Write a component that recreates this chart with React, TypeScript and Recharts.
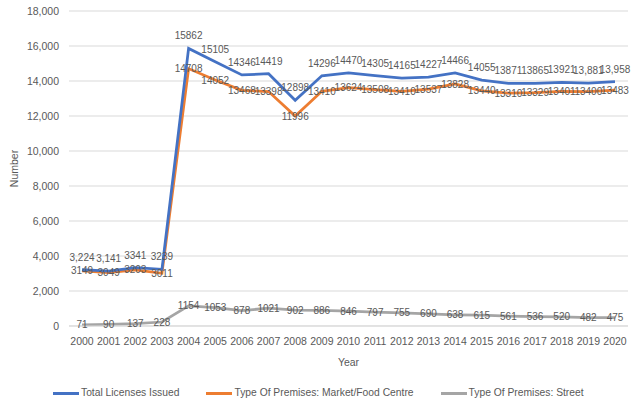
import React from "react";
import { LineChart, Line, XAxis, YAxis, CartesianGrid, LabelList } from "recharts";

const years = [
  "2000", "2001", "2002", "2003", "2004", "2005", "2006", "2007", "2008", "2009", "2010",
  "2011", "2012", "2013", "2014", "2015", "2016", "2017", "2018", "2019", "2020",
];

const totalLicenses = [
  3224, 3141, 3341, 3239, 15862, 15105, 14346, 14419, 12898, 14296, 14470,
  14305, 14165, 14227, 14466, 14055, 13871, 13865, 13921, 13881, 13958,
];

// Excel labels: a few carry thousands separators, most don't
const totalLabels = [
  "3,224", "3,141", "3341", "3239", "15862", "15105", "14346", "14419", "12898", "14296", "14470",
  "14305", "14165", "14227", "14466", "14055", "13871", "13865", "13921", "13,881", "13,958",
];

const marketFood = [
  3149, 3049, 3203, 3011, 14708, 14052, 13468, 13398, 11996, 13410, 13624,
  13508, 13410, 13537, 13828, 13440, 13310, 13329, 13401, 13400, 13483,
];

const street = [
  71, 90, 137, 228, 1154, 1053, 878, 1021, 902, 886, 846,
  797, 755, 690, 638, 615, 561, 536, 520, 482, 475,
];

const yTicks = [0, 2000, 4000, 6000, 8000, 10000, 12000, 14000, 16000, 18000];

const data = years.map((year, i) => ({
  year,
  total: totalLicenses[i],
  totalLabel: totalLabels[i],
  market: marketFood[i],
  street: street[i],
}));

const FONT = "'Liberation Sans', Arial, sans-serif";
const TEXT = "#595959";

const series = [
  { key: "total", name: "Total Licenses Issued", color: "#4472C4" },
  { key: "market", name: "Type Of Premises: Market/Food Centre", color: "#ED7D31" },
  { key: "street", name: "Type Of Premises: Street", color: "#A5A5A5" },
];

const fmt = (v: number) => v.toLocaleString("en-US");

const App: React.FC = () => {
  return (
    <div style={{ position: "absolute", left: 0, top: 0, width: 639, height: 402, background: "#fff", fontFamily: FONT }}>
      <LineChart width={639} height={402} data={data} margin={{ top: 11, right: 11, left: 0, bottom: 36 }}>
        <CartesianGrid vertical={false} stroke="#d9d9d9" />
        <XAxis
          dataKey="year"
          height={40}
          padding={{ left: 13, right: 13 }}
          tickLine={false}
          axisLine={{ stroke: "#d9d9d9" }}
          tickMargin={6}
          interval={0}
          tick={{ fill: TEXT, fontSize: 10.5, fontFamily: FONT }}
          label={{ value: "Year", position: "insideBottom", offset: 0, fill: TEXT, fontSize: 10.5, fontFamily: FONT }}
        />
        <YAxis
          width={69}
          domain={[0, 18000]}
          ticks={yTicks}
          tickFormatter={fmt}
          tickLine={false}
          axisLine={false}
          tickMargin={4}
          tick={{ fill: TEXT, fontSize: 10.5, fontFamily: FONT }}
          label={({ viewBox }: any) => {
            const cy = viewBox.y + viewBox.height / 2;
            return (
              <text x={14} y={cy} transform={`rotate(-90, 14, ${cy})`} textAnchor="middle" dominantBaseline="central" fill={TEXT} fontSize={10.5} fontFamily={FONT}>
                Number
              </text>
            );
          }}
        />
        <Line dataKey="street" stroke="#A5A5A5" strokeWidth={2.75} dot={false} isAnimationActive={false}>
          <LabelList dataKey="street" position="center" fill={TEXT} fontSize={10} fontFamily={FONT} />
        </Line>
        <Line dataKey="market" stroke="#ED7D31" strokeWidth={2.75} dot={false} isAnimationActive={false}>
          <LabelList dataKey="market" position="center" fill={TEXT} fontSize={10} fontFamily={FONT} />
        </Line>
        <Line dataKey="total" stroke="#4472C4" strokeWidth={2.75} dot={false} isAnimationActive={false}>
          <LabelList dataKey="totalLabel" position="top" offset={9} fill={TEXT} fontSize={10} fontFamily={FONT} />
        </Line>
      </LineChart>
      <div style={{ position: "absolute", left: 53, top: 387, display: "flex", gap: 27, alignItems: "center", fontSize: 10.3, lineHeight: "12px", color: TEXT, whiteSpace: "nowrap" }}>
        {series.map((s) => (
          <div key={s.key} style={{ display: "flex", alignItems: "center" }}>
            <span style={{ display: "inline-block", width: 26, height: 3, background: s.color, marginRight: 2 }} />
            <span>{s.name}</span>
          </div>
        ))}
      </div>
    </div>
  );
};

export default App;
